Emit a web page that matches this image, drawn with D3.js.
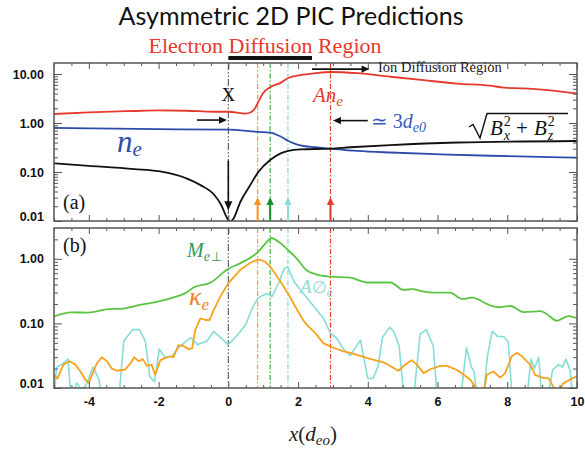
<!DOCTYPE html>
<html>
<head>
<meta charset="utf-8">
<script src="https://cdn.jsdelivr.net/npm/d3@7"></script>
<style>
  body { margin: 0; background: #fff; }
  svg { display: block; }
</style>
</head>
<body>
<svg id="chart" width="585" height="449"></svg>
<script>
// ---------- data ----------
const xTickValues = [-4, -2, 0, 2, 4, 6, 8, 10];
const yTicksA = [0.01, 0.1, 1, 10];
const yTicksB = [0.01, 0.1, 1];

// panel (a): A n_e, n_e and sqrt(Bx^2+Bz^2) along x
const anE = [[-5,1.53],[-4,1.65],[-2.7,1.76],[-2,1.81],[-1.2,1.78],[-0.4,1.70],[0,1.70],[0.5,1.56],[0.63,1.64],[0.75,1.93],[0.86,2.7],[1.0,4.1],[1.2,5.4],[1.5,6.6],[1.72,8.3],[2.07,9.5],[2.5,10.4],[2.93,11],[3.7,10.4],[4.65,8.8],[5.6,7.5],[6.57,6.4],[7.5,5.8],[7.9,5.3],[8.46,5.1],[9.44,4.5],[10,4.0]];
const nE = [[-5,0.80],[-4,0.78],[-2,0.75],[0,0.73],[0.86,0.66],[1.2,0.64],[1.5,0.53],[1.72,0.43],[2.0,0.36],[2.5,0.32],[2.93,0.30],[3.7,0.27],[4.65,0.25],[6.08,0.23],[7.5,0.215],[10,0.196]];
const bMag = [[-5,0.15],[-4,0.134],[-2.7,0.115],[-2,0.104],[-1.2,0.074],[-0.8,0.054],[-0.4,0.034],[-0.2,0.021],[-0.05,0.012],[0.05,0.0097],[0.15,0.0113],[0.35,0.025],[0.6,0.05],[0.86,0.10],[1.2,0.176],[1.5,0.24],[1.72,0.27],[2.07,0.29],[2.93,0.30],[3.5,0.32],[4.65,0.355],[6.57,0.40],[10,0.43]];

// panel (b): M_e-perp, kappa_e and A-phi_e along x
const mPerp = [[-5,0.128],[-4.5,0.148],[-4,0.147],[-3.5,0.165],[-3,0.17],[-2.5,0.195],[-2,0.22],[-1.5,0.26],[-1.2,0.30],[-1,0.36],[-0.5,0.43],[0,0.70],[0.34,0.85],[0.86,1.29],[1.15,1.95],[1.22,2.1],[1.5,1.74],[1.71,1.37],[1.97,1.0],[2.2,0.70],[2.54,0.57],[2.93,0.53],[3.5,0.51],[3.99,0.43],[4.65,0.43],[5.03,0.33],[5.27,0.34],[5.6,0.31],[5.88,0.30],[6.36,0.30],[6.7,0.24],[6.99,0.25],[7.51,0.19],[7.75,0.178],[8.09,0.186],[8.47,0.15],[8.95,0.155],[9.13,0.14],[9.42,0.11],[9.76,0.13],[10,0.12]];
const kappa = [[-5,0.016],[-4.9,0.014],[-4.73,0.023],[-4.55,0.026],[-4.39,0.023],[-4.24,0.018],[-4.1,0.0134],[-4.0,0.012],[-3.91,0.016],[-3.77,0.024],[-3.63,0.030],[-3.48,0.026],[-3.34,0.020],[-3.19,0.0185],[-2.95,0.0195],[-2.81,0.024],[-2.7,0.030],[-2.58,0.026],[-2.45,0.028],[-2.34,0.022],[-2.2,0.023],[-2.1,0.016],[-1.95,0.027],[-1.81,0.029],[-1.66,0.031],[-1.57,0.030],[-1.43,0.046],[-1.3,0.045],[-1.14,0.040],[-1.04,0.041],[-0.95,0.079],[-0.8,0.12],[-0.66,0.113],[-0.54,0.113],[-0.42,0.16],[-0.23,0.26],[0,0.42],[0.34,0.67],[0.63,0.87],[0.87,0.98],[1.06,0.9],[1.2,0.76],[1.5,0.44],[1.71,0.29],[2.01,0.15],[2.16,0.11],[2.26,0.094],[2.5,0.07],[2.73,0.049],[3.02,0.042],[3.3,0.037],[3.5,0.035],[3.99,0.029],[4.45,0.025],[4.88,0.0185],[5.07,0.023],[5.26,0.027],[5.41,0.023],[5.6,0.017],[5.79,0.0195],[6.08,0.022],[6.27,0.022],[6.56,0.019],[6.75,0.016],[6.94,0.0134],[7.08,0.0105],[7.17,0.008],[7.32,0.008],[7.41,0.016],[7.6,0.018],[7.8,0.0145],[7.94,0.017],[8.13,0.031],[8.28,0.035],[8.42,0.031],[8.66,0.023],[8.8,0.016],[9.04,0.0142],[9.18,0.0142],[9.32,0.0105],[9.42,0.008],[9.61,0.0118],[9.85,0.014],[10,0.0152]];
const aPhi = [[-5,0.006],[-4.93,0.021],[-4.78,0.023],[-4.6,0.028],[-4.5,0.006],[-4.35,0.012],[-4.22,0.0095],[-4.08,0.011],[-3.88,0.021],[-3.72,0.014],[-3.58,0.006],[-3.15,0.006],[-3.0,0.053],[-2.75,0.08],[-2.55,0.08],[-2.38,0.053],[-2.25,0.015],[-2.12,0.0125],[-1.98,0.04],[-1.82,0.03],[-1.62,0.031],[-1.47,0.04],[-1.25,0.051],[-1.08,0.06],[-0.88,0.047],[-0.62,0.053],[-0.42,0.075],[-0.26,0.063],[0,0.047],[0.15,0.057],[0.3,0.07],[0.5,0.096],[0.7,0.18],[0.86,0.25],[1.1,0.29],[1.25,0.26],[1.45,0.43],[1.6,0.70],[1.7,0.75],[1.88,0.45],[2.07,0.33],[2.5,0.17],[2.73,0.12],[2.93,0.07],[3.1,0.06],[3.3,0.04],[3.5,0.032],[3.79,0.055],[4.0,0.014],[4.15,0.014],[4.3,0.022],[4.42,0.061],[4.63,0.087],[4.75,0.075],[4.9,0.044],[5.05,0.006],[5.3,0.006],[5.5,0.068],[5.68,0.08],[5.88,0.044],[6.0,0.006],[6.65,0.006],[6.83,0.042],[6.97,0.021],[7.05,0.018],[7.15,0.006],[7.3,0.006],[7.43,0.031],[7.57,0.076],[7.72,0.063],[7.9,0.062],[8.03,0.051],[8.15,0.006],[8.55,0.006],[8.68,0.028],[8.78,0.02],[8.9,0.03],[9.0,0.006],[9.15,0.006],[9.3,0.019],[9.47,0.023],[9.58,0.021],[9.68,0.028],[9.8,0.019],[9.9,0.006],[10,0.006]];

// reference locations along x (X-point, kappa peak, M peak, A-phi peak, density edge)
const markerX = [0, 0.84, 1.2, 1.71, 2.93];
const markerColors = ["#555555", "#f4a030", "#3cb040", "#7fd6d0", "#e63a2e"];
const arrowColors = ["#f7941d", "#14912c", "#86dcd6", "#e63a2e"];
const edrSpan = [0, 2.4];

// ---------- layout ----------
const svg = d3.select("#chart");
const left = 54, right = 577;
const aTop = 63, aBot = 221, bTop = 228, bBot = 388;
const serif = "'Liberation Serif','Times New Roman',serif";
const sans = "'Liberation Sans',Arial,Helvetica,sans-serif";

const x = d3.scaleLinear().domain([-5, 10]).range([left, right]);
const yA = d3.scaleLog().domain([0.01, 16.8]).range([aBot, aTop]);
const yB = d3.scaleLog().domain([0.01, 3.0]).range([bBot, bTop]);

// clip paths
const defs = svg.append("defs");
[["clipA", aTop, aBot], ["clipB", bTop, bBot]].forEach(([id, t, b]) => {
  defs.append("clipPath").attr("id", id).append("rect")
    .attr("x", left).attr("y", t).attr("width", right - left).attr("height", b - t);
});

function minorLog(domain) {
  const out = [];
  for (let e = -2; e <= 1; e++) {
    for (let m = 2; m <= 9; m++) {
      const v = m * Math.pow(10, e);
      if (v > domain[0] && v < domain[1]) out.push(v);
    }
  }
  return out;
}
const xMinor = d3.range(-5, 10.001, 0.5).filter(v => !xTickValues.includes(v));

function drawAxes(yScale, yTicks, top, bot, showXLabels) {
  const g = svg.append("g");
  const fmt = d3.format(".2f");
  // left: major with labels
  const la = g.append("g").attr("transform", `translate(${left},0)`)
    .call(d3.axisLeft(yScale).tickValues(yTicks).tickFormat(fmt)
      .tickSizeInner(-8).tickSizeOuter(0).tickPadding(10));
  la.selectAll("text").attr("font-family", sans).attr("font-weight", "bold")
    .attr("font-size", 12.5).attr("fill", "#111");
  la.selectAll("text").filter(d => d === 0.01).attr("dy", "-0.05em");
  g.append("g").attr("transform", `translate(${left},0)`)
    .call(d3.axisLeft(yScale).tickValues(minorLog(yScale.domain())).tickFormat("")
      .tickSizeInner(-4).tickSizeOuter(0));
  // right
  g.append("g").attr("transform", `translate(${right},0)`)
    .call(d3.axisRight(yScale).tickValues(yTicks).tickFormat("").tickSizeInner(-8).tickSizeOuter(0));
  g.append("g").attr("transform", `translate(${right},0)`)
    .call(d3.axisRight(yScale).tickValues(minorLog(yScale.domain())).tickFormat("").tickSizeInner(-4).tickSizeOuter(0));
  // bottom
  const ba = g.append("g").attr("transform", `translate(0,${bot})`)
    .call(d3.axisBottom(x).tickValues(xTickValues).tickFormat(showXLabels ? d3.format("d") : "")
      .tickSizeInner(-6).tickSizeOuter(0).tickPadding(9));
  ba.selectAll("text").attr("font-family", sans).attr("font-weight", "bold")
    .attr("font-size", 12.5).attr("fill", "#111")
    .text(d => showXLabels ? String(d) : "");
  g.append("g").attr("transform", `translate(0,${bot})`)
    .call(d3.axisBottom(x).tickValues(xMinor).tickFormat("").tickSizeInner(-3).tickSizeOuter(0));
  // top
  g.append("g").attr("transform", `translate(0,${top})`)
    .call(d3.axisTop(x).tickValues(xTickValues).tickFormat("").tickSizeInner(-6).tickSizeOuter(0));
  g.append("g").attr("transform", `translate(0,${top})`)
    .call(d3.axisTop(x).tickValues(xMinor).tickFormat("").tickSizeInner(-3).tickSizeOuter(0));
  g.selectAll(".domain").remove();
  g.selectAll(".tick line").attr("stroke", "#555").attr("stroke-width", 1);
  // frame
  g.append("rect").attr("x", left).attr("y", top).attr("width", right - left).attr("height", bot - top)
    .attr("fill", "none").attr("stroke", "#555").attr("stroke-width", 1.5);
}

function drawMarkers(clipId, top, bot) {
  const g = svg.append("g").attr("clip-path", `url(#${clipId})`);
  markerX.forEach((mx, i) => {
    g.append("line").attr("x1", x(mx)).attr("x2", x(mx)).attr("y1", top).attr("y2", bot)
      .attr("stroke", markerColors[i]).attr("stroke-width", i === 0 ? 1.1 : 1.2)
      .attr("stroke-dasharray", i === 0 ? "7,2,1.5,2,1.5,2" : "5,2,1.5,2");
  });
}

function drawLine(data, yScale, clipId, color, width, curve) {
  const line = d3.line().x(d => x(d[0])).y(d => yScale(d[1])).curve(curve);
  svg.append("path").datum(data).attr("clip-path", `url(#${clipId})`)
    .attr("d", line).attr("fill", "none").attr("stroke", color)
    .attr("stroke-width", width).attr("stroke-linejoin", "round");
}

function arrow(x1, y1, x2, y2, color, w, head) {
  const ang = Math.atan2(y2 - y1, x2 - x1);
  const hl = head || 8, hw = (head || 8) * 0.45;
  const bx = x2 - hl * Math.cos(ang), by = y2 - hl * Math.sin(ang);
  svg.append("line").attr("x1", x1).attr("y1", y1).attr("x2", bx + Math.cos(ang)).attr("y2", by + Math.sin(ang))
    .attr("stroke", color).attr("stroke-width", w);
  const px = -Math.sin(ang), py = Math.cos(ang);
  svg.append("polygon")
    .attr("points", [[x2, y2], [bx + px * hw, by + py * hw], [bx - px * hw, by - py * hw]].map(p => p.join(",")).join(" "))
    .attr("fill", color);
}

// rich math-like text laid out piece by piece; returns the group and end x
function rich(x0, y0, pieces, color) {
  const g = svg.append("g");
  let cx = x0;
  pieces.forEach(p => {
    const t = g.append("text").attr("x", cx + (p.dx || 0)).attr("y", y0 + (p.dy || 0))
      .attr("font-family", p.font || serif).attr("font-size", p.size)
      .attr("font-style", p.it ? "italic" : "normal").attr("fill", color).text(p.t);
    const w = t.node().getComputedTextLength();
    if (!p.stay) cx += w + (p.dx || 0) + (p.after || 0);
  });
  return {g, end: cx};
}

// ---------- titles ----------
svg.append("text").attr("x", 291).attr("y", 25).attr("text-anchor", "middle")
  .attr("font-family", "Lato, 'Open Sans', sans-serif").attr("font-size", 25).attr("fill", "#111")
  .text("Asymmetric 2D PIC Predictions");
svg.append("text").attr("x", 265).attr("y", 53).attr("text-anchor", "middle")
  .attr("font-family", serif).attr("font-size", 22).attr("fill", "#e8392f")
  .text("Electron Diffusion Region");
svg.append("rect").attr("x", x(edrSpan[0])).attr("y", 56).attr("width", x(edrSpan[1]) - x(edrSpan[0])).attr("height", 4)
  .attr("fill", "#111");

// ---------- panel (a) ----------
drawMarkers("clipA", aTop, aBot);
drawLine(anE, yA, "clipA", "#e63a2e", 1.8, d3.curveMonotoneX);
drawLine(nE, yA, "clipA", "#2b4ca8", 1.8, d3.curveMonotoneX);
drawLine(bMag, yA, "clipA", "#111", 1.8, d3.curveMonotoneX);
drawAxes(yA, yTicksA, aTop, aBot, false);

// annotation arrows in panel (a)
arrow(x(2.4), yA(12.6), x(4.05), yA(12.6), "#111", 1.6, 8);
svg.append("text").attr("x", 378).attr("y", 72).attr("font-family", serif).attr("font-size", 14.5)
  .attr("fill", "#222").text("Ion Diffusion Region");
arrow(x(-0.9), yA(1.15), x(-0.04), yA(1.15), "#111", 1.6, 8);
arrow(x(4.0), yA(1.12), x(3.0), yA(1.12), "#111", 1.6, 8);
arrow(x(0), yA(0.17), x(0), yA(0.0165), "#111", 1.6, 9);
markerX.slice(1).forEach((mx, i) => {
  arrow(x(mx), aBot, x(mx), yA(0.031), arrowColors[i], 2, 8);
});

svg.append("text").attr("x", x(0)).attr("y", 101).attr("text-anchor", "middle")
  .attr("font-family", serif).attr("font-size", 19).attr("fill", "#111").text("X");
svg.append("text").attr("x", 63).attr("y", 209).attr("font-family", serif).attr("font-size", 20)
  .attr("fill", "#111").text("(a)");

rich(117, 152, [{t: "n", it: true, size: 31}, {t: "e", it: true, size: 21, dy: 4}], "#2b4ca8");
rich(313, 102, [{t: "A", it: true, size: 21}, {t: "n", it: true, size: 21}, {t: "e", it: true, size: 15, dy: 4}], "#e63a2e");
rich(371, 128, [{t: "\u2243", size: 20, font: "'DejaVu Serif',serif", after: 5}, {t: "3", size: 20}, {t: "d", it: true, size: 20},
  {t: "e0", it: true, size: 14, dy: 4}], "#3a58b8");

// sqrt(Bx^2 + Bz^2)
(function () {
  const c = "#111";
  const r = rich(490, 135, [
    {t: "B", it: true, size: 21, after: 1},
    {t: "2", size: 14, dy: -9, stay: true},
    {t: "x", it: true, size: 14, dy: 5, after: 6},
    {t: "+", size: 21, after: 6},
    {t: "B", it: true, size: 21, after: 1},
    {t: "2", size: 14, dy: -9, stay: true},
    {t: "z", it: true, size: 14, dy: 5}
  ], c);
  svg.append("path")
    .attr("d", `M469,127 L473,124.5 L480,138 L487,113.5 L${Math.max(r.end + 2, 568)},113.5`)
    .attr("fill", "none").attr("stroke", c).attr("stroke-width", 1.4).attr("stroke-linejoin", "miter");
})();

// ---------- panel (b) ----------
drawMarkers("clipB", bTop, bBot);
drawLine(mPerp, yB, "clipB", "#5cc444", 1.8, d3.curveMonotoneX);
drawLine(aPhi, yB, "clipB", "#86dcd6", 1.6, d3.curveLinear);
drawLine(kappa, yB, "clipB", "#f7a21d", 1.8, d3.curveLinear);
drawAxes(yB, yTicksB, bTop, bBot, true);

svg.append("text").attr("x", 63).attr("y", 252).attr("font-family", serif).attr("font-size", 20)
  .attr("fill", "#111").text("(b)");
rich(187, 257, [{t: "M", it: true, size: 20}, {t: "e", it: true, size: 14, dy: 4, after: 1},
  {t: "\u22A5", size: 13, dy: 4, font: "'DejaVu Sans',sans-serif"}], "#2f9a55");
rich(189, 305, [{t: "\u03BA", it: true, size: 26}, {t: "e", it: true, size: 17, dy: 5}], "#f08028");
rich(300, 293, [{t: "A", it: true, size: 19}, {t: "\u2205", size: 17, font: "'DejaVu Serif',serif"},
  {t: "e", it: true, size: 14, dy: 4}], "#8fdcd5");

// x-axis title, centred under the plot
(function () {
  const r = rich(0, 441, [{t: "x", it: true, size: 21}, {t: "(", size: 21}, {t: "d", it: true, size: 21},
    {t: "eo", it: true, size: 15, dy: 4}, {t: ")", size: 21}], "#222");
  r.g.attr("transform", `translate(${313 - r.end / 2},0)`);
})();
</script>
</body>
</html>
